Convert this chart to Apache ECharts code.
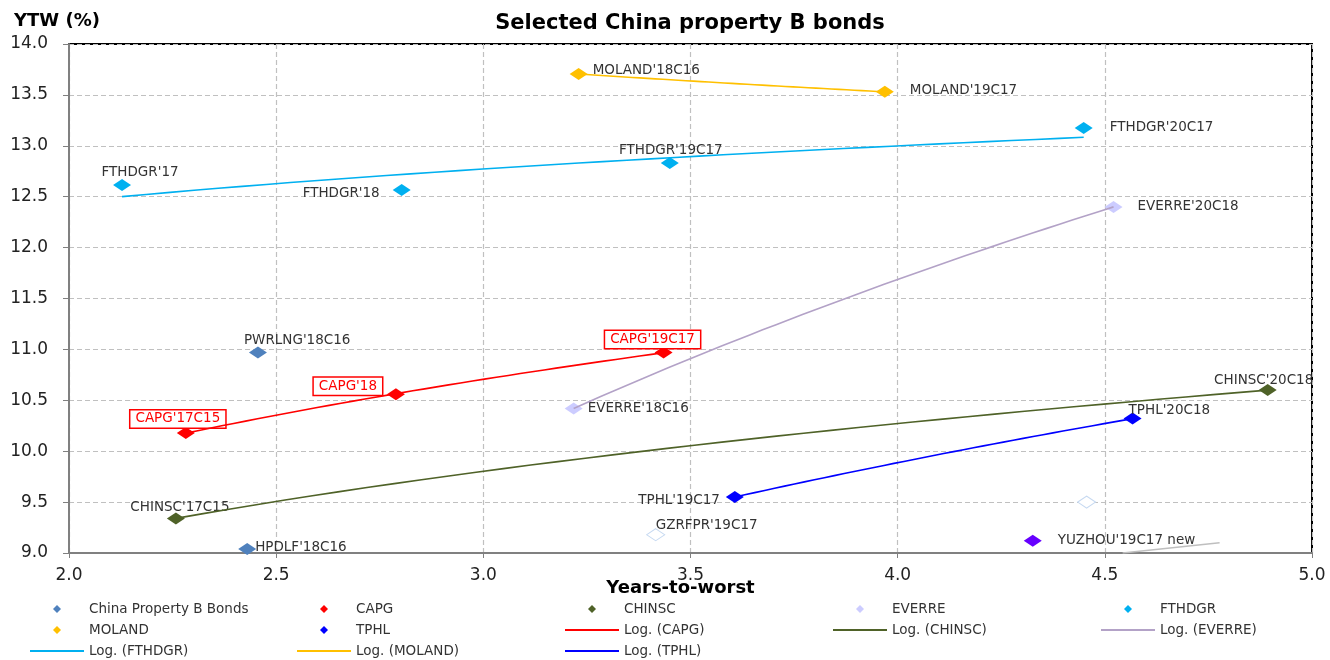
<!DOCTYPE html>
<html>
<head>
<meta charset="utf-8">
<script src="https://cdn.jsdelivr.net/npm/echarts@6/dist/echarts.min.js"></script>
<style>
html,body{margin:0;padding:0;background:#fff;}
#chart{width:1330px;height:660px;}
</style>
</head>
<body>
<div id="chart"></div>
<script>
// ---------- data ----------
const chartTitle = "Selected China property B bonds";
const yAxisTitle = "YTW (%)";
const xAxisTitle = "Years-to-worst";

const pbNames = ["PWRLNG'18C16", "HPDLF'18C16"];
const pbX = [2.456, 2.430];
const pbY = [10.97, 9.04];

const capgNames = ["CAPG'17C15", "CAPG'18", "CAPG'19C17"];
const capgX = [2.282, 2.789, 3.435];
const capgY = [10.18, 10.56, 10.97];

const chinscNames = ["CHINSC'17C15", "CHINSC'20C18"];
const chinscX = [2.258, 4.893];
const chinscY = [9.34, 10.60];

const everreNames = ["EVERRE'18C16", "EVERRE'20C18"];
const everreX = [3.218, 4.521];
const everreY = [10.42, 12.40];

const fthdgrNames = ["FTHDGR'17", "FTHDGR'18", "FTHDGR'19C17", "FTHDGR'20C17"];
const fthdgrX = [2.128, 2.803, 3.450, 4.449];
const fthdgrY = [12.615, 12.565, 12.83, 13.175];

const molandNames = ["MOLAND'18C16", "MOLAND'19C17"];
const molandX = [3.230, 3.969];
const molandY = [13.705, 13.53];

const tphlNames = ["TPHL'19C17", "TPHL'20C18"];
const tphlX = [3.607, 4.567];
const tphlY = [9.55, 10.32];

const yuzhouNames = ["YUZHOU'19C17 new"];
const yuzhouX = [4.326];
const yuzhouY = [9.12];

const otherNames = ["GZRFPR'19C17", ""];
const otherX = [3.416, 4.456];
const otherY = [9.18, 9.50];

const greyX = [4.543, 4.777];
const greyY = [9.00, 9.10];

// ---------- styles ----------
const FONT = "DejaVu Sans";
const LABEL_COLOR = "#333";
const LABEL_SIZE = 13.5;
// per-label placement: [align, dx, dy]
const labelPlace = {
  "PWRLNG'18C16": ["left", -14, -12],
  "HPDLF'18C16": ["left", 8, -1],
  "CAPG'17C15": ["center", -8, -14],
  "CAPG'18": ["center", -48, -8],
  "CAPG'19C17": ["center", -11, -13],
  "CHINSC'17C15": ["center", 4, -11],
  "CHINSC'20C18": ["center", -4, -10],
  "EVERRE'18C16": ["left", 14, 0],
  "EVERRE'20C18": ["left", 24, 0],
  "FTHDGR'17": ["center", 18, -12],
  "FTHDGR'18": ["right", -22, 3],
  "FTHDGR'19C17": ["center", 1, -13],
  "FTHDGR'20C17": ["left", 26, 0],
  "MOLAND'18C16": ["left", 14, -4],
  "MOLAND'19C17": ["left", 25, -1],
  "TPHL'19C17": ["right", -15, 3],
  "TPHL'20C18": ["left", -4, -8],
  "GZRFPR'19C17": ["left", 0, -9],
  "YUZHOU'19C17 new": ["left", 25, 0]
};

function pts(names, xs, ys, boxed) {
  return xs.map((x, i) => {
    const nm = names[i];
    const p = labelPlace[nm] || ["center", 0, 0];
    const lab = {
      show: !!nm, formatter: nm, position: "inside", align: p[0],
      verticalAlign: "middle", offset: [p[1], p[2]],
      fontFamily: FONT, fontSize: LABEL_SIZE, color: LABEL_COLOR
    };
    if (boxed) {
      Object.assign(lab, {color: "#ff0000", backgroundColor: "#fff",
        borderColor: "#ff0000", borderWidth: 1.5, padding: [2, 5, 1, 5]});
    }
    return {value: [x, ys[i]], name: nm, label: lab};
  });
}

function logFit(xs, ys) {
  const n = xs.length;
  const lx = xs.map(Math.log);
  const mx = lx.reduce((a, b) => a + b, 0) / n;
  const my = ys.reduce((a, b) => a + b, 0) / n;
  let sxy = 0, sxx = 0;
  for (let i = 0; i < n; i++) { sxy += (lx[i] - mx) * (ys[i] - my); sxx += (lx[i] - mx) ** 2; }
  const a = sxy / sxx, b = my - a * mx;
  const lo = Math.min(...xs), hi = Math.max(...xs);
  const out = [];
  const N = 40;
  for (let k = 0; k <= N; k++) {
    const x = lo + (hi - lo) * k / N;
    out.push([x, a * Math.log(x) + b]);
  }
  return out;
}

const symSize = [18, 12];
function scatter(name, color, data, extra) {
  return Object.assign({
    name, type: "scatter", symbol: "diamond", symbolSize: symSize,
    itemStyle: {color, opacity: 1}, data, z: 2, emphasis: {disabled: true}
  }, extra || {});
}
function trend(name, color, xs, ys) {
  return {
    name, type: "line", data: logFit(xs, ys), showSymbol: false, symbol: "none",
    lineStyle: {color, width: 1.6}, itemStyle: {color}, z: 3, silent: true
  };
}

const series = [
  scatter("China Property B Bonds", "#4F81BD", pts(pbNames, pbX, pbY)),
  scatter("CAPG", "#FF0000", pts(capgNames, capgX, capgY, true)),
  scatter("CHINSC", "#4F6228", pts(chinscNames, chinscX, chinscY)),
  scatter("EVERRE", "#CCCCFF", pts(everreNames, everreX, everreY)),
  scatter("FTHDGR", "#00B0F0", pts(fthdgrNames, fthdgrX, fthdgrY)),
  scatter("MOLAND", "#FFC000", pts(molandNames, molandX, molandY)),
  scatter("TPHL", "#0000FF", pts(tphlNames, tphlX, tphlY)),
  scatter("YUZHOU", "#6600FF", pts(yuzhouNames, yuzhouX, yuzhouY)),
  scatter("Other", "#ffffff", pts(otherNames, otherX, otherY),
    {itemStyle: {color: "#ffffff", borderColor: "#C6D9F1", borderWidth: 1, opacity: 1}}),
  trend("Log. (CAPG)", "#FF0000", capgX, capgY),
  trend("Log. (CHINSC)", "#4F6228", chinscX, chinscY),
  trend("Log. (EVERRE)", "#B3A2C7", everreX, everreY),
  trend("Log. (FTHDGR)", "#00B0F0", fthdgrX, fthdgrY),
  trend("Log. (MOLAND)", "#FFC000", molandX, molandY),
  trend("Log. (TPHL)", "#0000FF", tphlX, tphlY),
  {name: "grey", type: "line", data: greyX.map((x, i) => [x, greyY[i]]), showSymbol: false,
   symbol: "none", lineStyle: {color: "#BFBFBF", width: 1.5}, z: 3, silent: true}
];

// legend layout: [name, kind, col, row]
const legendItems = [
  ["China Property B Bonds", "m", 0, 0], ["CAPG", "m", 1, 0], ["CHINSC", "m", 2, 0],
  ["EVERRE", "m", 3, 0], ["FTHDGR", "m", 4, 0],
  ["MOLAND", "m", 0, 1], ["TPHL", "m", 1, 1], ["Log. (CAPG)", "l", 2, 1],
  ["Log. (CHINSC)", "l", 3, 1], ["Log. (EVERRE)", "l", 4, 1],
  ["Log. (FTHDGR)", "l", 0, 2], ["Log. (MOLAND)", "l", 1, 2], ["Log. (TPHL)", "l", 2, 2]
];
const colTextX = [89, 356, 624, 892, 1160];
const rowY = [609, 630, 651];
const LEG_SIZE = 13.5;
const legends = legendItems.map(([name, kind, c, r]) => {
  const tx = colTextX[c];
  const base = {
    data: [{name, icon: kind === "m" ? "diamond" : "rect"}],
    selectedMode: false, orient: "horizontal", padding: 0,
    top: rowY[r] - 8,
    textStyle: {fontFamily: FONT, fontSize: LEG_SIZE, color: "#333", lineHeight: 16}
  };
  if (kind === "m") {
    return Object.assign(base, {
      left: tx - 36, itemWidth: 8, itemHeight: 8,
      formatter: "{t|{name}}",
      textStyle: {fontFamily: FONT, fontSize: LEG_SIZE, color: "#333", lineHeight: 16,
        rich: {t: {padding: [0, 0, 0, 23], fontFamily: FONT, fontSize: LEG_SIZE, color: "#333"}}}
    });
  }
  return Object.assign(base, {left: tx - 59, itemWidth: 54, itemHeight: 2});
});

const option = {
  animation: false,
  backgroundColor: "#fff",
  title: [
    {text: chartTitle, left: 685, textAlign: "center", top: 8,
     textStyle: {fontFamily: FONT, fontSize: 21, fontWeight: "bold", color: "#000"}},
    {text: yAxisTitle, left: 9, top: 7,
     textStyle: {fontFamily: FONT, fontSize: 18, fontWeight: "bold", color: "#000"}}
  ],
  legend: legends,
  grid: {left: 69, right: 18, top: 44, bottom: 107, show: true,
         borderColor: "#000", borderWidth: 2, backgroundColor: "#fff"},
  xAxis: {
    type: "value", min: 2, max: 5, interval: 0.5,
    name: xAxisTitle, nameLocation: "middle", nameGap: 26, nameMoveOverlap: false,
    nameTextStyle: {fontFamily: FONT, fontSize: 18, fontWeight: "bold", color: "#000", padding: [0, 20, 0, 0]},
    axisLine: {lineStyle: {color: "#808080", width: 2}},
    axisTick: {show: true, inside: false, length: 5, lineStyle: {color: "#808080"}},
    axisLabel: {formatter: v => v.toFixed(1), fontFamily: FONT, fontSize: 17, color: "#222", margin: 14},
    splitLine: {lineStyle: {color: "#C0C0C0", type: [5, 3], width: 1.2}}
  },
  yAxis: {
    type: "value", min: 9, max: 14, interval: 0.5,
    axisLine: {show: true, lineStyle: {color: "#808080", width: 2}},
    axisTick: {show: true, inside: false, length: 6, lineStyle: {color: "#808080"}},
    axisLabel: {formatter: v => v.toFixed(1), fontFamily: FONT, fontSize: 17, color: "#222", margin: 21},
    splitLine: {lineStyle: {color: "#C0C0C0", type: [5, 3], width: 1.2}}
  },
  series
};

const chart = echarts.init(document.getElementById("chart"), null, {renderer: "canvas"});
chart.setOption(option);
</script>
</body>
</html>
